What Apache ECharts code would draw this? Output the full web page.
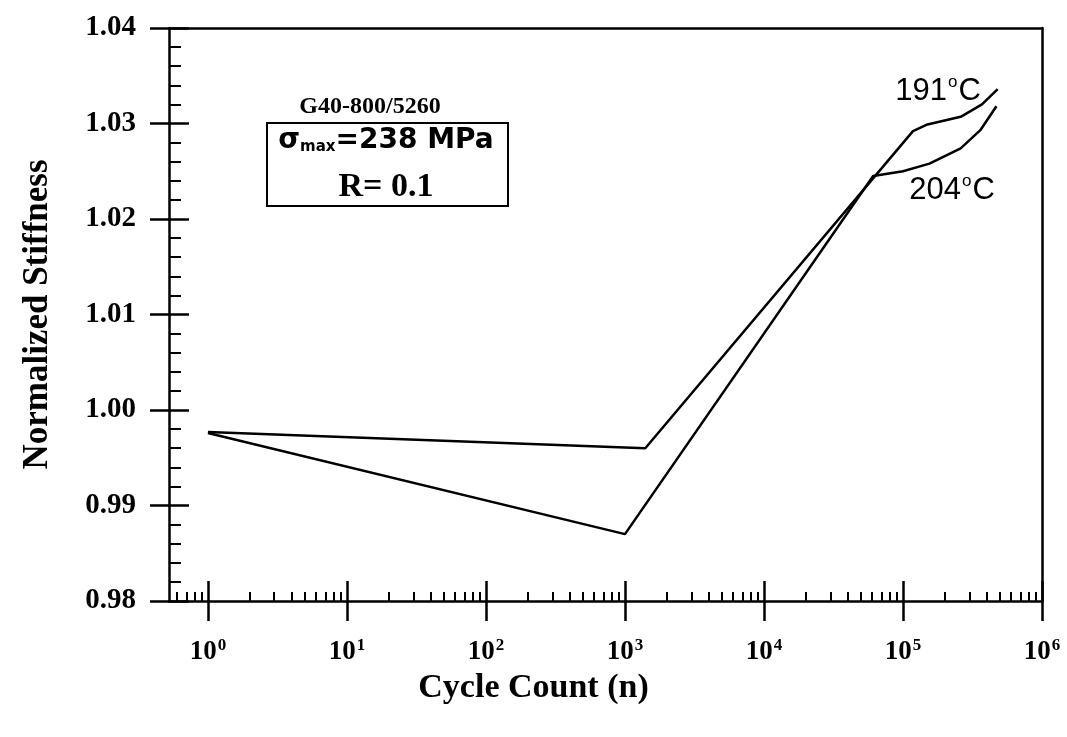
<!DOCTYPE html>
<html>
<head>
<meta charset="utf-8">
<title>Normalized Stiffness vs Cycle Count</title>
<script src="https://cdn.jsdelivr.net/npm/echarts@6/dist/echarts.min.js"></script>
<style>
  html, body { margin: 0; padding: 0; background: #fff; }
  #chart { width: 1067px; height: 737px; }
</style>
</head>
<body>
<div id="chart"></div>
<script>
// Stiffness history of G40-800/5260 at two temperatures
const cycles191 = [1, 1400, 118000, 150000, 260000, 370000, 480000];
const stiff191  = [0.9977, 0.9960, 1.0292, 1.0299, 1.0307, 1.0320, 1.0336];

const cycles204 = [1, 1000, 61000, 100000, 155000, 260000, 360000, 470000];
const stiff204  = [0.9976, 0.9870, 1.0245, 1.0250, 1.0258, 1.0274, 1.0293, 1.0318];

// Axis ticks
const xDecades = [1, 10, 100, 1000, 10000, 100000, 1000000];
const xMinorSteps = [2, 3, 4, 5, 6, 7, 8, 9];
const xLeadMinor = [0.6, 0.7, 0.8, 0.9];
const yTicks = [0.98, 0.99, 1.00, 1.01, 1.02, 1.03, 1.04];

const xMinorTicks = xLeadMinor.slice();
xDecades.slice(0, -1).forEach(d => xMinorSteps.forEach(m => xMinorTicks.push(d * m)));

const serif = '"Liberation Serif", "Times New Roman", serif';
const sans = '"Liberation Sans", Arial, sans-serif';
const heavySans = '"DejaVu Sans", Verdana, sans-serif';
const black = '#000';
const lw = 2.5;

const xMin = Math.pow(10, -0.28);
const xMax = 1e6;

function pairs(xs, ys) { return xs.map((x, i) => [x, ys[i]]); }

const baseX = { type: 'log', logBase: 10, min: xMin, max: xMax, position: 'bottom', gridIndex: 0,
  splitLine: { show: false }, minorSplitLine: { show: false } };
const baseY = { type: 'value', min: yTicks[0], max: yTicks[yTicks.length - 1], interval: 0.01,
  splitLine: { show: false } };

// temperature labels with a raised small "o" for the degree sign
const tempRich = {
  t: { fontFamily: sans, fontSize: 31, fill: black },
  o: { fontFamily: sans, fontSize: 17, fill: black, padding: [0, 1, 17, 1] }
};

const chart = echarts.init(document.getElementById('chart'), null, { renderer: 'canvas' });

chart.setOption({
  backgroundColor: '#fff',
  animation: false,
  grid: { left: 169, right: 25, top: 28, bottom: 136, containLabel: false, outerBoundsMode: 'none' },
  xAxis: [
    Object.assign({}, baseX, {
      axisLine: { show: true, lineStyle: { color: black, width: lw } },
      axisTick: { show: true, inside: false, length: 20, customValues: xDecades,
        lineStyle: { color: black, width: lw } },
      axisLabel: {
        show: true, margin: 36, customValues: xDecades,
        formatter: v => '{b|10}{s|' + Math.round(Math.log10(v)) + '}',
        rich: {
          b: { fontFamily: serif, fontWeight: 'bold', fontSize: 27, color: black },
          s: { fontFamily: serif, fontWeight: 'bold', fontSize: 17, color: black, padding: [0, 0, 14, 1] }
        }
      }
    }),
    Object.assign({}, baseX, {
      axisLine: { show: false },
      axisTick: { show: true, inside: true, length: 20, customValues: xDecades,
        lineStyle: { color: black, width: lw } },
      axisLabel: { show: false }
    }),
    Object.assign({}, baseX, {
      axisLine: { show: false },
      axisTick: { show: true, inside: true, length: 9, customValues: xMinorTicks,
        lineStyle: { color: black, width: 2 } },
      axisLabel: { show: false }
    }),
    Object.assign({}, baseX, {
      position: 'top',
      axisLine: { show: true, lineStyle: { color: black, width: lw } },
      axisTick: { show: false }, axisLabel: { show: false }
    })
  ],
  yAxis: [
    Object.assign({}, baseY, {
      position: 'left',
      axisLine: { show: true, lineStyle: { color: black, width: lw } },
      axisTick: { show: true, inside: false, length: 19, lineStyle: { color: black, width: lw } },
      axisLabel: { show: true, margin: 33, fontFamily: serif, fontWeight: 'bold', fontSize: 29,
        color: black, formatter: v => v.toFixed(2) },
      name: 'Normalized Stiffness', nameLocation: 'middle', nameGap: 114, nameRotate: 90,
      nameTextStyle: { fontFamily: serif, fontWeight: 'bold', fontSize: 35, color: black }
    }),
    Object.assign({}, baseY, {
      position: 'left',
      axisLine: { show: false },
      axisTick: { show: true, inside: true, length: 20, lineStyle: { color: black, width: lw } },
      minorTick: { show: true, splitNumber: 5, length: 12, lineStyle: { color: black, width: 2 } },
      axisLabel: { show: false }
    }),
    Object.assign({}, baseY, {
      position: 'right',
      axisLine: { show: true, lineStyle: { color: black, width: lw } },
      axisTick: { show: false }, axisLabel: { show: false }
    })
  ],
  series: [
    { name: '191°C', type: 'line', xAxisIndex: 0, yAxisIndex: 0, data: pairs(cycles191, stiff191),
      showSymbol: false, symbol: 'none', lineStyle: { color: black, width: lw }, z: 5 },
    { name: '204°C', type: 'line', xAxisIndex: 0, yAxisIndex: 0, data: pairs(cycles204, stiff204),
      showSymbol: false, symbol: 'none', lineStyle: { color: black, width: lw }, z: 5 }
  ],
  graphic: [
    { type: 'text', left: 'center', top: 671,
      style: { text: 'Cycle Count (n)', fontFamily: serif, fontWeight: 'bold', fontSize: 34, fill: black } },
    { type: 'text', x: 370, y: 107,
      style: { text: 'G40-800/5260', fontFamily: serif, fontWeight: 'bold', fontSize: 24, fill: black,
        align: 'center', verticalAlign: 'middle' } },
    { type: 'rect', shape: { x: 267, y: 123, width: 241, height: 83 },
      style: { fill: 'none', stroke: black, lineWidth: 2 } },
    { type: 'text', x: 386, y: 141,
      style: { text: '{g|σ}{m|max}{g|=238 MPa}', align: 'center', verticalAlign: 'middle',
        rich: {
          g: { fontFamily: heavySans, fontWeight: 'bold', fontSize: 28, fill: black },
          m: { fontFamily: heavySans, fontWeight: 'bold', fontSize: 15, fill: black, padding: [12, 0, 0, 0] }
        } } },
    { type: 'text', x: 386, y: 187,
      style: { text: 'R= 0.1', fontFamily: serif, fontWeight: 'bold', fontSize: 34, fill: black,
        align: 'center', verticalAlign: 'middle' } },
    { type: 'text', x: 938, y: 91,
      style: { text: '{t|191}{o|o}{t|C}', align: 'center', verticalAlign: 'middle', rich: tempRich } },
    { type: 'text', x: 952, y: 190,
      style: { text: '{t|204}{o|o}{t|C}', align: 'center', verticalAlign: 'middle', rich: tempRich } }
  ]
});
</script>
</body>
</html>
